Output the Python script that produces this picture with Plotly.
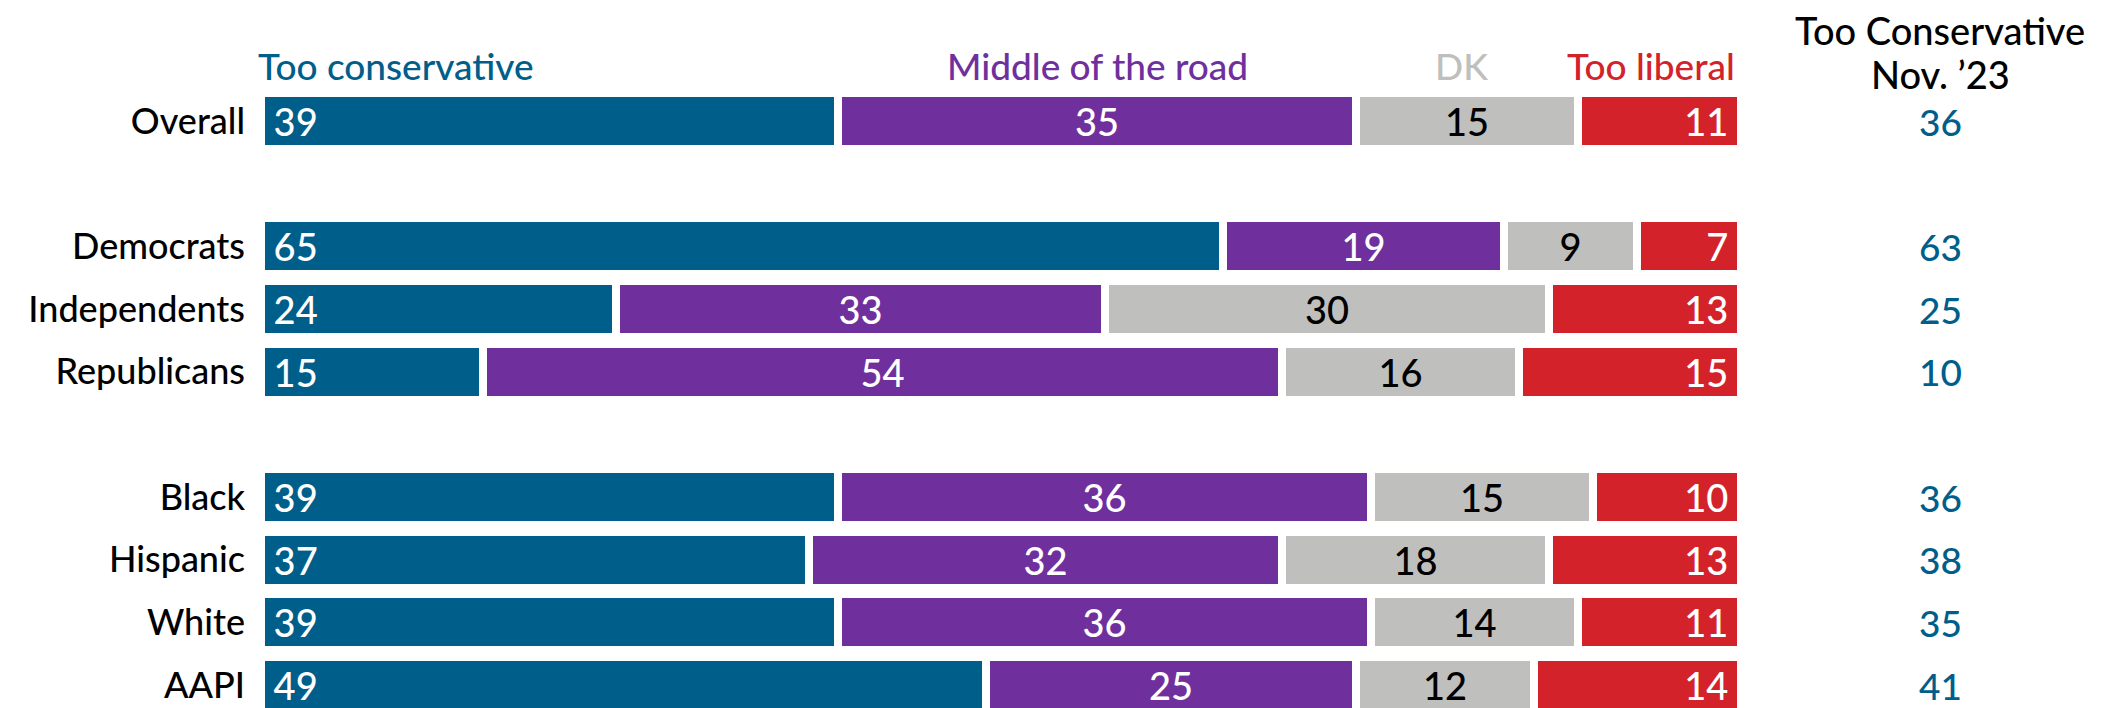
import plotly.graph_objects as go

categories = ["Overall", "Democrats", "Independents", "Republicans", "Black", "Hispanic", "White", "AAPI"]
row_pos = [0, 2, 3, 4, 6, 7, 8, 9]
too_conservative = [39, 65, 24, 15, 39, 37, 39, 49]
middle_of_road = [35, 19, 33, 54, 36, 32, 36, 25]
dont_know = [15, 9, 30, 16, 15, 18, 14, 12]
too_liberal = [11, 7, 13, 15, 10, 13, 11, 14]
nov23_too_conservative = [36, 63, 25, 10, 36, 38, 35, 41]

series_names = ["Too conservative", "Middle of the road", "DK", "Too liberal"]
series_values = [too_conservative, middle_of_road, dont_know, too_liberal]
colors = ["#005E8A", "#6F309E", "#BFBFBD", "#D3222A"]
text_colors = ["white", "white", "black", "white"]
text_anchor = ["start", "middle", "middle", "end"]
NB = "\u00a0"
text_fmt = [NB + "{}", "{}", "{}", "{}" + NB]

FONT = "Lato, Inter, Open Sans, sans-serif"
FS = 36
# page is offset by the 8px body margin
W, H = 2098, 700
X0_PX, X1_PX = 253, 1733
ROW_PX, TOP_PX = 62.67, 113

fig = go.Figure()
for name, vals, col, tc, anc, tf in zip(series_names, series_values, colors, text_colors, text_anchor, text_fmt):
    fig.add_trace(go.Bar(
        y=row_pos, x=vals, orientation="h", name=name,
        marker=dict(color=col, line=dict(color="white", width=8)),
        width=0.894,
        text=[tf.format(v) for v in vals], textposition="inside",
        insidetextanchor=anc, constraintext="none",
        textfont=dict(family=FONT, size=FS + 2, color=tc, weight=500),
        hoverinfo="skip",
    ))

starts = [0]
for v in series_values[:-1]:
    starts.append(starts[-1] + v[0])
hdr_y = 1 - 58 / H
hdr_shift = [-5, 0, -6, -4]
anns = []
for i, (name, col) in enumerate(zip(series_names, colors)):
    if i == 0:
        x, xa = 0, "left"
    elif i == 3:
        x, xa = 100, "right"
    else:
        x, xa = starts[i] + series_values[i][0] / 2, "center"
    anns.append(dict(x=x, xref="x", y=hdr_y, yref="paper", xanchor=xa, yanchor="middle",
                     xshift=hdr_shift[i], text=name, showarrow=False,
                     font=dict(family=FONT, size=FS + 1, color=col, weight=500)))

col_x = 1932 / W
for txt, yc in [("Too Conservative", 22.5), ("Nov. \u201923", 66.5)]:
    anns.append(dict(x=col_x, xref="paper", y=1 - yc / H, yref="paper", text=txt,
                     showarrow=False, xanchor="center", yanchor="middle", borderpad=0,
                     font=dict(family=FONT, size=FS + 2, color="black", weight=500)))
for yp, v in zip(row_pos, nov23_too_conservative):
    anns.append(dict(x=col_x, xref="paper", y=yp, yref="y", text=str(v), showarrow=False,
                     xanchor="center", yanchor="middle",
                     font=dict(family=FONT, size=FS + 1, color="#005E8A", weight=500)))

fig.update_layout(
    width=W, height=H, margin=dict(l=0, r=0, t=0, b=0),
    barmode="stack", bargap=0, showlegend=False,
    paper_bgcolor="white", plot_bgcolor="white",
    xaxis=dict(domain=[X0_PX / W, X1_PX / W], range=[0, 100], visible=False, fixedrange=True),
    yaxis=dict(range=[(H - TOP_PX) / ROW_PX, -TOP_PX / ROW_PX],
               tickvals=row_pos, ticktext=categories, ticks="", showgrid=False, zeroline=False,
               showline=False, ticklabelstandoff=15,
               tickfont=dict(family=FONT, size=FS, color="black", weight=500)),
    annotations=anns,
    font=dict(family=FONT),
)
fig.write_html("out.html")
